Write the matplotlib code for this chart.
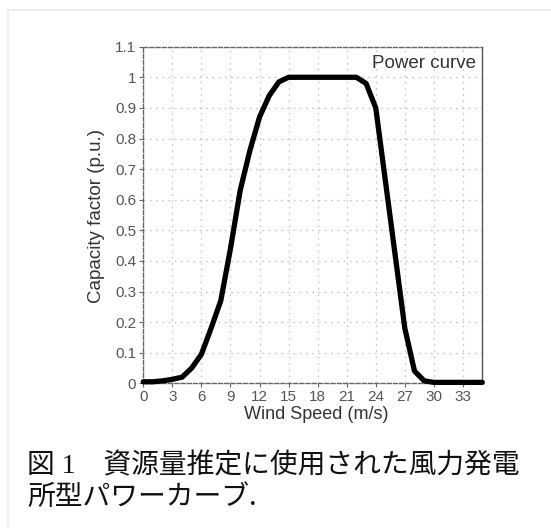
import matplotlib
matplotlib.use("Agg")
import matplotlib.pyplot as plt
from matplotlib.patches import Rectangle

wind_speed = [0, 1, 2, 3, 4, 5, 6, 7, 8, 9, 10, 11, 12, 13, 14, 15, 16, 17, 18,
              19, 20, 21, 22, 23, 24, 25, 26, 27, 28, 29, 30, 31, 32, 33, 34, 35]
capacity = [0.005, 0.005, 0.008, 0.013, 0.02, 0.05, 0.095, 0.18, 0.27, 0.44,
            0.63, 0.76, 0.87, 0.94, 0.985, 1.0, 1.0, 1.0, 1.0, 1.0, 1.0, 1.0,
            1.0, 0.98, 0.9, 0.66, 0.42, 0.18, 0.04, 0.008, 0.003, 0.003, 0.003,
            0.003, 0.003, 0.003]
x_ticks = [0, 3, 6, 9, 12, 15, 18, 21, 24, 27, 30, 33]
y_ticks = [0, 0.1, 0.2, 0.3, 0.4, 0.5, 0.6, 0.7, 0.8, 0.9, 1.0, 1.1]
y_tick_labels = ["0", "0.1", "0.2", "0.3", "0.4", "0.5", "0.6", "0.7", "0.8", "0.9", "1", "1.1"]

W, H = 551, 528
fig = plt.figure(figsize=(W / 100, H / 100), dpi=100)
fig.patch.set_facecolor("white")
fig.patches.append(Rectangle((8 / W, -0.1), 1.2, (H - 10) / H + 0.1,
                             transform=fig.transFigure, fill=False,
                             edgecolor="#ececec", linewidth=1.2))

ax = fig.add_axes([143.3 / W, 1 - 383.3 / H, 339 / W, 336.6 / H])
ax.plot(wind_speed, capacity, color="black", linewidth=3.8,
        solid_joinstyle="round", solid_capstyle="round", zorder=3, clip_on=False)
ax.set_xlim(0, 35)
ax.set_ylim(0, 1.1)
ax.set_xticks(x_ticks)
ax.set_yticks(y_ticks)
ax.set_yticklabels(y_tick_labels)
ax.grid(True, color="#c8c8c8", linestyle=(0, (1.5, 3.5)), linewidth=0.9)
for side in ["left", "top", "bottom"]:
    ax.spines[side].set_linestyle((0, (3, 1.5)))
    ax.spines[side].set_color("#666666")
    ax.spines[side].set_linewidth(1.0)
ax.spines["right"].set_color("#555555")
ax.spines["right"].set_linewidth(1.0)
ax.tick_params(axis="both", direction="out", length=3, width=0.8, colors="#666666",
               labelcolor="#555555", labelsize=11, pad=2)
for lbl in ax.get_xticklabels() + ax.get_yticklabels():
    lbl.set_fontfamily("Liberation Sans")
ax.set_xlabel("Wind Speed (m/s)", fontsize=13, color="#333333",
              fontfamily="Liberation Sans", va="center")
ax.xaxis.set_label_coords(0.509, -0.094)
ax.set_ylabel("Capacity factor (p.u.)", fontsize=13.5, color="#333333",
              fontfamily="Liberation Sans", va="center")
ax.yaxis.set_label_coords(-0.1366, 0.497)
ax.text(0.982, 0.95, "Power curve", transform=ax.transAxes, ha="right", va="center",
        fontsize=13.5, color="#333333", fontfamily="Liberation Sans")

cap_family = ["Liberation Serif", "Noto Sans CJK JP"]
fig.text(27 / W, 1 - 466 / H, "図 1　資源量推定に使用された風力発電",
         fontsize=20, family=cap_family, va="center", ha="left", color="#111111")
fig.text(27 / W, 1 - 497 / H, "所型パワーカーブ.",
         fontsize=20, family=["Noto Sans CJK JP", "DejaVu Sans"],
         va="center", ha="left", color="#111111")

fig.savefig("out.png", dpi=100, facecolor="white")
